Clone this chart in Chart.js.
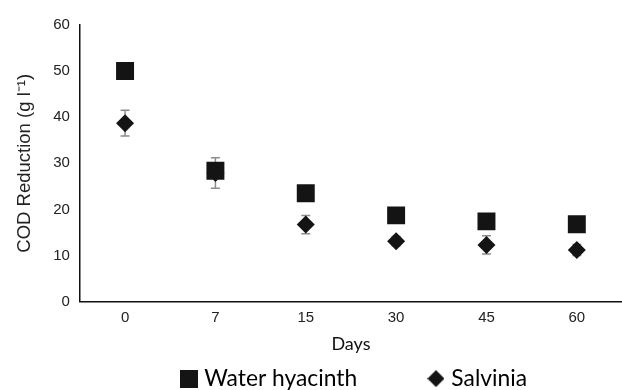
<!DOCTYPE html>
<html>
<head>
<meta charset="utf-8">
<script src="https://cdn.jsdelivr.net/npm/chart.js@4"></script>
<style>
  html, body { margin: 0; padding: 0; background: #fff; overflow: hidden; }
  #wrap { width: 622px; height: 390px; position: relative; }
  #wrap canvas { display: block; }
</style>
</head>
<body>
<div id="wrap"><canvas id="codChart"></canvas></div>
<script>
// chart data
const days = ['0', '7', '15', '30', '45', '60'];
const hyacinthValues = [50.0, 28.4, 23.5, 18.7, 17.4, 16.8];
const hyacinthErrors = [0.8, 1.0, 0.8, 0.7, 0.8, 1.3];
const salviniaValues = [38.7, 27.9, 16.7, 13.1, 12.3, 11.2];
const salviniaErrors = [2.8, 3.3, 2.0, 1.0, 2.0, 1.2];
const yTicks = [0, 10, 20, 30, 40, 50, 60];

const markColor = '#141414';

// big markers would otherwise add padding on every side of the plot
Chart.registry.getController('line').prototype.getMaxOverflow = function() { return 0; };

// small canvases used as legend markers
function makeMarker(kind, size) {
    const c = document.createElement('canvas');
    c.width = size;
    c.height = size;
    const g = c.getContext('2d');
    g.fillStyle = markColor;
    if (kind === 'square') {
        g.fillRect(0, 0, size, size);
    } else if (kind === 'diamond') {
        g.beginPath();
        g.moveTo(size / 2, 0);
        g.lineTo(size, size / 2);
        g.lineTo(size / 2, size);
        g.lineTo(0, size / 2);
        g.closePath();
        g.fill();
    }
    return c;
}
const squareMarker = makeMarker('square', 18);
const diamondMarker = makeMarker('diamond', 17);
const blankMarker = makeMarker('blank', 1);

// error bars drawn behind the markers
const errorBars = {
    id: 'errorBars',
    beforeDatasetsDraw(chart) {
        const ctx = chart.ctx;
        const yScale = chart.scales.y;
        ctx.save();
        ctx.strokeStyle = '#8c8c8c';
        ctx.lineWidth = 1.5;
        chart.data.datasets.forEach((ds, di) => {
            const meta = chart.getDatasetMeta(di);
            meta.data.forEach((pt, i) => {
                const err = ds.errors[i];
                const v = ds.data[i];
                const top = yScale.getPixelForValue(v + err);
                const bot = yScale.getPixelForValue(v - err);
                const x = pt.x;
                ctx.beginPath();
                ctx.moveTo(x, top);
                ctx.lineTo(x, bot);
                ctx.moveTo(x - 4.5, top);
                ctx.lineTo(x + 4.5, top);
                ctx.moveTo(x - 4.5, bot);
                ctx.lineTo(x + 4.5, bot);
                ctx.stroke();
            });
        });
        ctx.restore();
    }
};

// center the legend under the plot area instead of the whole canvas
const legendUnderPlot = {
    id: 'legendUnderPlot',
    afterLayout(chart) {
        const lg = chart.legend;
        if (!lg) return;
        const shift = (chart.chartArea.left + chart.chartArea.right) / 2 - (lg.left + lg.right) / 2 + 5;
        lg.left += shift;
        lg.right += shift;
    }
};

const ctx = document.getElementById('codChart').getContext('2d');
new Chart(ctx, {
    type: 'line',
    data: {
        labels: days,
        datasets: [
            {
                label: 'Salvinia',
                data: salviniaValues,
                errors: salviniaErrors,
                showLine: false,
                pointStyle: 'rectRot',
                pointRadius: 9,
                pointHoverRadius: 9,
                pointBorderWidth: 0,
                backgroundColor: markColor,
                borderColor: markColor,
                order: 2
            },
            {
                label: 'Water hyacinth',
                data: hyacinthValues,
                errors: hyacinthErrors,
                showLine: false,
                pointStyle: 'rect',
                pointRadius: 12.7,
                pointHoverRadius: 12.7,
                pointBorderWidth: 0,
                backgroundColor: markColor,
                borderColor: markColor,
                order: 1
            }
        ]
    },
    options: {
        responsive: true,
        maintainAspectRatio: false,
        animation: false,
        layout: { padding: { left: 14, right: 0, top: 25, bottom: -10 } },
        plugins: {
            tooltip: { enabled: false },
            legend: {
                position: 'bottom',
                labels: {
                    usePointStyle: true,
                    pointStyleWidth: 8,
                    color: '#111',
                    font: { family: 'Lato', size: 22.8 },
                    padding: 12,
                    boxHeight: 18,
                    generateLabels(chart) {
                        // hyacinth first, a blank spacer, then salvinia
                        return [
                            { text: 'Water hyacinth', pointStyle: squareMarker, datasetIndex: 1, fillStyle: markColor, strokeStyle: markColor, lineWidth: 0 },
                            { text: '', pointStyle: blankMarker, fillStyle: 'rgba(0,0,0,0)', strokeStyle: 'rgba(0,0,0,0)', lineWidth: 0 },
                            { text: '', pointStyle: blankMarker, fillStyle: 'rgba(0,0,0,0)', strokeStyle: 'rgba(0,0,0,0)', lineWidth: 0 },
                            { text: 'Salvinia', pointStyle: diamondMarker, datasetIndex: 0, fillStyle: markColor, strokeStyle: markColor, lineWidth: 0 }
                        ];
                    }
                }
            }
        },
        scales: {
            x: {
                type: 'category',
                offset: true,
                grid: { display: false, drawTicks: false },
                border: { display: true, color: '#111', width: 1.5 },
                ticks: {
                    color: '#222',
                    font: { family: 'Liberation Sans', size: 15 },
                    padding: 7
                },
                title: {
                    display: true,
                    text: 'Days',
                    color: '#111',
                    font: { family: 'Lato', size: 18 },
                    padding: { top: 0, bottom: 0 }
                }
            },
            y: {
                min: 0,
                max: 60,
                afterBuildTicks(axis) {
                    axis.ticks = yTicks.map(v => ({ value: v }));
                },
                grid: { display: false, drawTicks: false },
                border: { display: true, color: '#111', width: 1.5 },
                ticks: {
                    color: '#222',
                    font: { family: 'Liberation Sans', size: 15 },
                    padding: 10
                },
                title: {
                    display: true,
                    text: 'COD Reduction (g l\u207B\u00B9)',
                    color: '#222',
                    font: { family: 'Liberation Sans', size: 18.5 },
                    padding: { top: 0, bottom: 7 }
                }
            }
        }
    },
    plugins: [errorBars, legendUnderPlot]
});
</script>
</body>
</html>
